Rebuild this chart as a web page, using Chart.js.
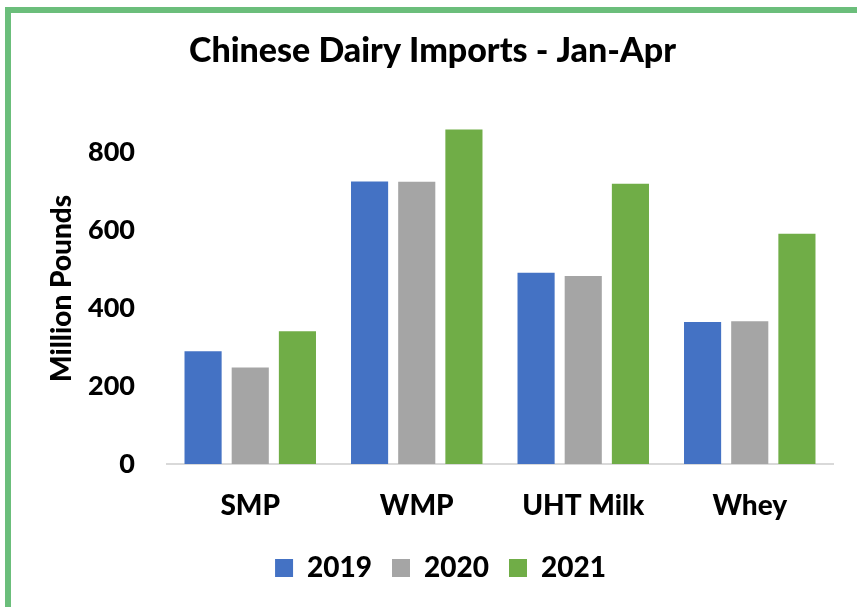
<!DOCTYPE html>
<html>
<head>
<meta charset="utf-8">
<script src="https://cdn.jsdelivr.net/npm/chart.js@4"></script>
<style>
  html, body { margin: 0; padding: 0; background: #fff; }
  #wrap { position: relative; width: 857px; height: 607px; overflow: hidden; }
  #frame { position: absolute; left: 5px; top: 7px; width: 870px; height: 620px;
           border-left: 6px solid #6BBE7B; border-top: 6px solid #6BBE7B; box-sizing: border-box; }
  canvas { position: absolute; left: 0; top: 0; }
</style>
</head>
<body>
<div id="wrap">
  <div id="frame"></div>
  <canvas id="chartImports" width="857" height="607"></canvas>
</div>
<script>
// Datos
const categorias = ['SMP', 'WMP', 'UHT Milk', 'Whey'];
const anios = ['2019', '2020', '2021'];
const valores2019 = [289, 724, 490, 364];
const valores2020 = [247, 723, 482, 366];
const valores2021 = [340, 857, 718, 590];
const colores = ['#4472C4', '#A5A5A5', '#70AD47'];

const fuente = "Lato, 'Open Sans', sans-serif";

// Desplaza un poco la leyenda a la derecha, como en el original
const moverLeyenda = {
    id: 'moverLeyenda',
    afterLayout: function (chart) {
        if (chart.legend) {
            chart.legend.left += 8;
            chart.legend.right += 8;
        }
    }
};

document.addEventListener('DOMContentLoaded', function () {
    const chartElement = document.getElementById('chartImports');
    new Chart(chartElement, {
        type: 'bar',
        data: {
            labels: categorias,
            datasets: [
                { label: anios[0], data: valores2019, backgroundColor: colores[0] },
                { label: anios[1], data: valores2020, backgroundColor: colores[1] },
                { label: anios[2], data: valores2021, backgroundColor: colores[2] }
            ]
        },
        plugins: [moverLeyenda],
        options: {
            responsive: false,
            animation: false,
            categoryPercentage: 0.85,
            barPercentage: 0.787,
            layout: { padding: { left: 32, right: 24, top: 31, bottom: 15 } },
            plugins: {
                title: {
                    display: true,
                    text: 'Chinese Dairy Imports - Jan-Apr',
                    color: '#000',
                    font: { family: fuente, size: 34, weight: 900 },
                    padding: { top: 0, bottom: 41 }
                },
                legend: {
                    position: 'bottom',
                    labels: {
                        color: '#000',
                        font: { family: fuente, size: 28, weight: 900 },
                        boxWidth: 18,
                        boxHeight: 18,
                        padding: 20
                    }
                },
                tooltip: { enabled: false }
            },
            scales: {
                x: {
                    grid: { display: false, drawTicks: false },
                    border: { display: true, color: '#D9D9D9', width: 2 },
                    ticks: {
                        color: '#000',
                        padding: 25,
                        font: { family: fuente, size: 28, weight: 900 }
                    },
                    afterFit: function (scale) { scale.height = 70; }
                },
                y: {
                    min: 0,
                    max: 900,
                    grid: { display: false, drawTicks: false },
                    border: { display: false },
                    ticks: {
                        stepSize: 200,
                        color: '#000',
                        padding: 32,
                        font: { family: fuente, size: 27, weight: 900 },
                        callback: function (v) { return v % 200 === 0 ? v : ''; }
                    },
                    title: {
                        display: true,
                        text: 'Million Pounds',
                        color: '#000',
                        font: { family: fuente, size: 28, weight: 900 },
                        padding: { top: 13, bottom: 0 }
                    },
                    afterFit: function (scale) { scale.width = 135; }
                }
            }
        }
    });
});
</script>
</body>
</html>
